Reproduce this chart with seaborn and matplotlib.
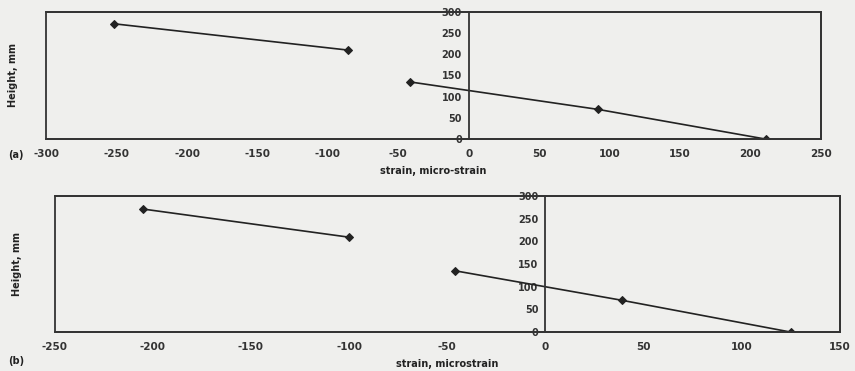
import pandas as pd
import seaborn as sns
import matplotlib.pyplot as plt

# panel (a): strain, micro-strain vs height
a_upper_strain = [-252, -86]
a_upper_height = [272, 210]
a_lower_strain = [-42, 92, 211]
a_lower_height = [135, 70, 0]

# panel (b): strain, microstrain vs height
b_upper_strain = [-205, -100]
b_upper_height = [271, 209]
b_lower_strain = [-46, 39, 125]
b_lower_height = [135, 70, 0]

height_ticks = [0, 50, 100, 150, 200, 250, 300]
a_xticks = [-300, -250, -200, -150, -100, -50, 0, 50, 100, 150, 200, 250]
b_xticks = [-250, -200, -150, -100, -50, 0, 50, 100, 150]


def make_df(up_x, up_y, lo_x, lo_y):
    return pd.DataFrame({
        'strain': up_x + lo_x,
        'height': up_y + lo_y,
        'seg': ['upper'] * len(up_x) + ['lower'] * len(lo_x),
    })


df_a = make_df(a_upper_strain, a_upper_height, a_lower_strain, a_lower_height)
df_b = make_df(b_upper_strain, b_upper_height, b_lower_strain, b_lower_height)

sns.set_style("white")
plt.rcParams['font.family'] = ['DejaVu Sans']
plt.rcParams['axes.unicode_minus'] = False
bg = '#efefed'

fig = plt.figure(figsize=(8.55, 3.71), dpi=100, facecolor=bg)
ax_a = fig.add_axes([0.054, 0.625, 0.906, 0.343])
ax_b = fig.add_axes([0.064, 0.105, 0.918, 0.367])


def style(ax, df, xticks, xlabel, lab_x):
    sns.lineplot(data=df, x='strain', y='height', units='seg', estimator=None,
                 sort=False, color='#222222', marker='D', markersize=4.5,
                 markeredgecolor='#222222', linewidth=1.2, ax=ax)
    ax.set_facecolor(bg)
    ax.set_xlim(xticks[0], xticks[-1])
    ax.set_ylim(0, 300)
    ax.set_xticks(xticks)
    ax.set_yticks(height_ticks)
    ax.spines['left'].set_position(('data', 0))
    for s in ax.spines.values():
        s.set_color('#333333')
        s.set_linewidth(1.3)
    ax.patch.set_edgecolor('#333333')
    ax.patch.set_linewidth(1.3)
    ax.tick_params(axis='y', direction='out', length=3, pad=2, labelsize=7)
    ax.tick_params(axis='x', length=0, pad=7, labelsize=7.5)
    for lab in ax.get_xticklabels() + ax.get_yticklabels():
        lab.set_fontweight('bold')
        lab.set_color('#333333')
    ax.set_xlabel(xlabel, fontsize=7, weight='bold', color='#222222', labelpad=5)
    ax.set_ylabel('Height, mm', fontsize=7, weight='bold', color='#222222')
    ax.yaxis.set_label_coords(lab_x, 0.5)


style(ax_a, df_a, a_xticks, 'strain, micro-strain', -0.037)
style(ax_b, df_b, b_xticks, 'strain, microstrain', -0.042)

fig.text(0.01, 0.575, '(a)', fontsize=7, weight='bold', color='#222222')
fig.text(0.01, 0.018, '(b)', fontsize=7, weight='bold', color='#222222')

plt.savefig('out.png', dpi=100, facecolor=bg)
